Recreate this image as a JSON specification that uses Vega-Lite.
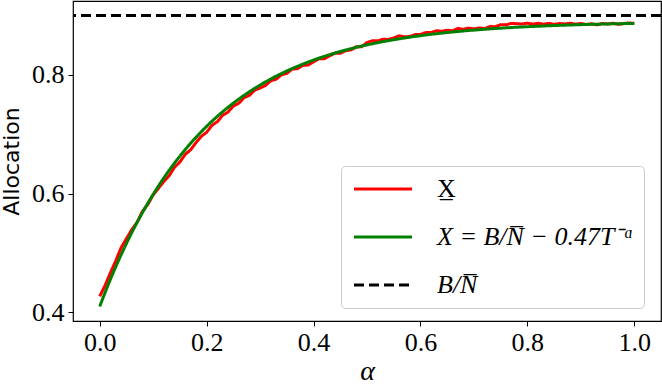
{
  "$schema": "https://vega.github.io/schema/vega-lite/v6.json",
  "width": 588,
  "height": 320,
  "autosize": "none",
  "padding": {"left": 73, "top": 1, "right": 1, "bottom": 66},
  "background": "white",
  "config": {
    "view": {"stroke": "black", "strokeWidth": 1.2},
    "axis": {"grid": false, "domain": false, "labelFont": "Liberation Serif", "labelFontSize": 26, "labelColor": "black", "tickColor": "black", "tickSize": 5, "titleColor": "black", "titleFontWeight": "normal"},
    "style": {"guide-label": {"font": "Liberation Serif", "fontSize": 26, "fill": "black"}}
  },
  "datasets": {
    "red": [
      {"a":0,"v":0.427},{"a":0.01,"v":0.4454},{"a":0.02,"v":0.4667},{"a":0.03,"v":0.4869},{"a":0.04,"v":0.509},{"a":0.05,"v":0.5242},{"a":0.06,"v":0.5394},{"a":0.07,"v":0.5518},{"a":0.08,"v":0.5702},{"a":0.09,"v":0.5819},
      {"a":0.1,"v":0.5979},{"a":0.11,"v":0.6091},{"a":0.12,"v":0.6206},{"a":0.13,"v":0.6304},{"a":0.14,"v":0.6446},{"a":0.15,"v":0.6533},{"a":0.16,"v":0.6663},{"a":0.17,"v":0.6738},{"a":0.18,"v":0.6858},{"a":0.19,"v":0.6964},
      {"a":0.2,"v":0.7034},{"a":0.21,"v":0.715},{"a":0.22,"v":0.7212},{"a":0.23,"v":0.732},{"a":0.24,"v":0.7374},{"a":0.25,"v":0.7475},{"a":0.26,"v":0.7522},{"a":0.27,"v":0.7616},{"a":0.28,"v":0.7656},{"a":0.29,"v":0.7744},
      {"a":0.3,"v":0.7779},{"a":0.31,"v":0.7821},{"a":0.32,"v":0.7901},{"a":0.33,"v":0.7928},{"a":0.34,"v":0.8003},{"a":0.35,"v":0.8026},{"a":0.36,"v":0.8097},{"a":0.37,"v":0.8105},{"a":0.38,"v":0.8162},{"a":0.39,"v":0.8167},
      {"a":0.4,"v":0.822},{"a":0.41,"v":0.8272},{"a":0.42,"v":0.8272},{"a":0.43,"v":0.8321},{"a":0.44,"v":0.8368},{"a":0.45,"v":0.8364},{"a":0.46,"v":0.8409},{"a":0.47,"v":0.8422},{"a":0.48,"v":0.8475},{"a":0.49,"v":0.8476},
      {"a":0.5,"v":0.8546},{"a":0.51,"v":0.8575},{"a":0.52,"v":0.8573},{"a":0.53,"v":0.8601},{"a":0.54,"v":0.8597},{"a":0.55,"v":0.8623},{"a":0.56,"v":0.8658},{"a":0.57,"v":0.8642},{"a":0.58,"v":0.8646},{"a":0.59,"v":0.8679},
      {"a":0.6,"v":0.8681},{"a":0.61,"v":0.8713},{"a":0.62,"v":0.8714},{"a":0.63,"v":0.8744},{"a":0.64,"v":0.8734},{"a":0.65,"v":0.8754},{"a":0.66,"v":0.8743},{"a":0.67,"v":0.8782},{"a":0.68,"v":0.877},{"a":0.69,"v":0.8788},
      {"a":0.7,"v":0.8775},{"a":0.71,"v":0.8792},{"a":0.72,"v":0.8779},{"a":0.73,"v":0.8815},{"a":0.74,"v":0.8811},{"a":0.75,"v":0.8847},{"a":0.76,"v":0.8843},{"a":0.77,"v":0.8868},{"a":0.78,"v":0.8863},{"a":0.79,"v":0.8858},
      {"a":0.8,"v":0.8872},{"a":0.81,"v":0.8856},{"a":0.82,"v":0.887},{"a":0.83,"v":0.8854},{"a":0.84,"v":0.8868},{"a":0.85,"v":0.8852},{"a":0.86,"v":0.8865},{"a":0.87,"v":0.8858},{"a":0.88,"v":0.8871},{"a":0.89,"v":0.8854},
      {"a":0.9,"v":0.8867},{"a":0.91,"v":0.8849},{"a":0.92,"v":0.8862},{"a":0.93,"v":0.8844},{"a":0.94,"v":0.8866},{"a":0.95,"v":0.8858},{"a":0.96,"v":0.887},{"a":0.97,"v":0.8852},{"a":0.98,"v":0.8864},{"a":0.99,"v":0.8876},{"a":1.0,"v":0.8868}
    ],
    "green": [
      {"a":0,"v":0.41},{"a":0.02,"v":0.4557},{"a":0.04,"v":0.497},{"a":0.06,"v":0.5344},{"a":0.08,"v":0.5682},{"a":0.1,"v":0.5989},{"a":0.12,"v":0.6266},{"a":0.14,"v":0.6516},{"a":0.16,"v":0.6743},{"a":0.18,"v":0.6948},
      {"a":0.2,"v":0.7134},{"a":0.22,"v":0.7302},{"a":0.24,"v":0.7454},{"a":0.26,"v":0.7592},{"a":0.28,"v":0.7716},{"a":0.3,"v":0.7829},{"a":0.32,"v":0.7931},{"a":0.34,"v":0.8023},{"a":0.36,"v":0.8107},{"a":0.38,"v":0.8182},
      {"a":0.4,"v":0.825},{"a":0.42,"v":0.8312},{"a":0.44,"v":0.8368},{"a":0.46,"v":0.8419},{"a":0.48,"v":0.8465},{"a":0.5,"v":0.8506},{"a":0.52,"v":0.8543},{"a":0.54,"v":0.8577},{"a":0.56,"v":0.8608},{"a":0.58,"v":0.8636},
      {"a":0.6,"v":0.8661},{"a":0.62,"v":0.8684},{"a":0.64,"v":0.8704},{"a":0.66,"v":0.8723},{"a":0.68,"v":0.874},{"a":0.7,"v":0.8755},{"a":0.72,"v":0.8769},{"a":0.74,"v":0.8781},{"a":0.76,"v":0.8793},{"a":0.78,"v":0.8803},
      {"a":0.8,"v":0.8812},{"a":0.82,"v":0.882},{"a":0.84,"v":0.8828},{"a":0.86,"v":0.8835},{"a":0.88,"v":0.8841},{"a":0.9,"v":0.8847},{"a":0.92,"v":0.8852},{"a":0.94,"v":0.8856},{"a":0.96,"v":0.886},{"a":0.98,"v":0.8864},{"a":1.0,"v":0.8868}
    ],
    "ref": [{"v": 0.9}]
  },
  "encoding": {
    "y": {"field": "v", "type": "quantitative", "scale": {"domain": [0.3855, 0.9245], "nice": false, "zero": false},
      "axis": {"title": "Allocation", "titleFont": "DejaVu Sans", "titleFontSize": 22, "values": [0.4, 0.6, 0.8], "format": ".1f", "labelFont": "Liberation Serif", "labelFontSize": 26, "labelPadding": 4, "titlePadding": 8}}
  },
  "layer": [
    {
      "data": {"name": "red"},
      "transform": [{"calculate": "'X\u0332'", "as": "s"}],
      "mark": {"type": "line", "strokeWidth": 3, "strokeJoin": "round"},
      "encoding": {
        "x": {"field": "a", "type": "quantitative", "scale": {"domain": [-0.05, 1.05], "nice": false, "zero": false},
          "axis": {"title": "α", "titleFont": "Liberation Serif", "titleFontStyle": "italic", "titleFontSize": 28, "values": [0, 0.2, 0.4, 0.6, 0.8, 1.0], "format": ".1f", "labelFont": "Liberation Serif", "labelFontSize": 26, "labelPadding": 3, "titlePadding": 2}},
        "color": {"field": "s", "type": "nominal", "scale": {"domain": ["X\u0332", "X = B/N\u0305 \u2212 0.47T\u207B\u1D45", "B/N\u0305"], "range": ["#ff0000", "#008000", "#000000"]},
          "legend": {"title": null, "orient": "none", "legendX": 268, "legendY": 165, "symbolType": "M-2.9,0H2.9", "symbolSize": 400, "symbolStrokeWidth": 3, "symbolOffset": 19, "labelFont": "Liberation Serif", "labelFontSize": 26, "labelOffset": 41, "padding": 10, "rowPadding": 22, "fillColor": "rgba(255,255,255,0.85)", "strokeColor": "#cccccc", "cornerRadius": 4, "labelLimit": 400, "labelColor": "black",
            "encode": {"labels": {"update": {"fontStyle": {"signal": "datum.value === 'X\u0332' ? 'normal' : 'italic'"}}}}}},
        "strokeDash": {"field": "s", "type": "nominal", "scale": {"domain": ["X\u0332", "X = B/N\u0305 \u2212 0.47T\u207B\u1D45", "B/N\u0305"], "range": [[1, 0], [1, 0], [10, 5]]},
          "legend": {"title": null, "orient": "none", "legendX": 268, "legendY": 165, "symbolType": "M-2.9,0H2.9", "symbolSize": 400, "symbolStrokeWidth": 3, "symbolOffset": 19, "labelFont": "Liberation Serif", "labelFontSize": 26, "labelOffset": 41, "padding": 10, "rowPadding": 22, "fillColor": "rgba(255,255,255,0.85)", "strokeColor": "#cccccc", "cornerRadius": 4, "labelLimit": 400, "labelColor": "black",
            "encode": {"labels": {"update": {"fontStyle": {"signal": "datum.value === 'X\u0332' ? 'normal' : 'italic'"}}}}}}
      }
    },
    {
      "data": {"name": "green"},
      "transform": [{"calculate": "'X = B/N\u0305 \u2212 0.47T\u207B\u1D45'", "as": "s"}],
      "mark": {"type": "line", "strokeWidth": 3, "interpolate": "monotone"},
      "encoding": {
        "x": {"field": "a", "type": "quantitative"},
        "color": {"field": "s", "type": "nominal"},
        "strokeDash": {"field": "s", "type": "nominal"}
      }
    },
    {
      "data": {"name": "ref"},
      "transform": [{"calculate": "'B/N\u0305'", "as": "s"}],
      "mark": {"type": "rule", "strokeWidth": 3},
      "encoding": {
        "color": {"field": "s", "type": "nominal"},
        "strokeDash": {"field": "s", "type": "nominal"}
      }
    }
  ]
}
